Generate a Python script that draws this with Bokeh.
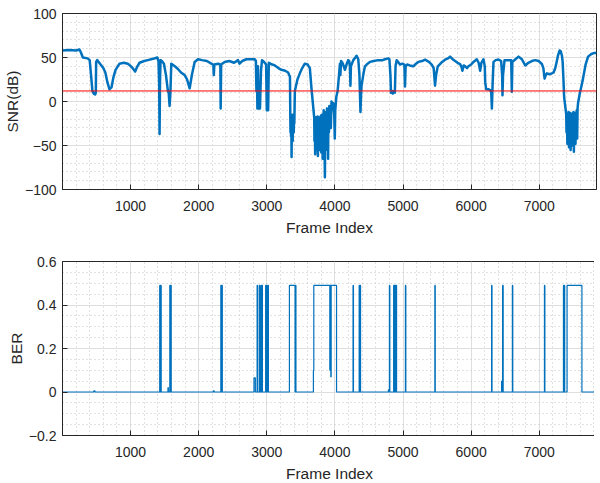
from bokeh.plotting import figure
from bokeh.layouts import column
from bokeh.models import FixedTicker, Range1d, Span
from bokeh.embed import file_html
from bokeh.resources import INLINE

# ---------------- data ----------------
snr_frame = [
    1, 100, 200, 250, 270, 300, 370, 400, 420, 440, 460, 480, 490, 495, 510, 560, 600, 630, 660, 690,
    720, 750, 780, 838, 900, 960, 1020, 1068, 1100, 1132, 1200, 1254, 1330, 1392, 1410, 1420, 1426, 1432, 1440, 1460,
    1490, 1520, 1548, 1560, 1573, 1585, 1598, 1650, 1696, 1740, 1794, 1830, 1868, 1900, 1941, 1990, 2050, 2120, 2186, 2215,
    2222, 2230, 2290, 2318, 2323, 2330, 2382, 2450, 2520, 2578, 2600, 2640, 2700, 2760, 2823, 2840, 2848, 2855, 2862, 2870,
    2880, 2890, 2900, 2915, 2930, 2960, 2990, 3000, 3010, 3020, 3030, 3080, 3118, 3170, 3215, 3270, 3313, 3340, 3345, 3348,
    3352, 3356, 3360, 3364, 3368, 3372, 3376, 3380, 3384, 3388, 3392, 3396, 3400, 3404, 3412, 3450, 3485, 3520, 3558, 3600,
    3632, 3656, 3680, 3696, 3700, 3705, 3710, 3715, 3720, 3725, 3730, 3735, 3740, 3745, 3750, 3755, 3760, 3765, 3770, 3775,
    3780, 3785, 3790, 3795, 3800, 3805, 3810, 3815, 3820, 3825, 3830, 3835, 3840, 3845, 3853, 3858, 3865, 3870, 3878, 3883,
    3890, 3895, 3900, 3905, 3912, 3918, 3925, 3930, 3940, 3950, 3960, 3975, 3990, 3998, 4005, 4020, 4040, 4060, 4074, 4080,
    4090, 4110, 4130, 4147, 4170, 4195, 4210, 4220, 4228, 4235, 4270, 4300, 4318, 4343, 4360, 4375, 4385, 4391, 4420, 4441,
    4480, 4514, 4570, 4637, 4700, 4735, 4784, 4800, 4815, 4823, 4835, 4850, 4865, 4880, 4890, 4906, 4956, 4990, 5020, 5029,
    5038, 5060, 5100, 5151, 5190, 5225, 5280, 5323, 5380, 5421, 5450, 5470, 5485, 5510, 5560, 5617, 5660, 5691, 5730, 5764,
    5800, 5838, 5855, 5872, 5890, 5911, 5940, 5960, 6000, 6034, 6083, 6110, 6132, 6150, 6181, 6200, 6206, 6220, 6250, 6279,
    6295, 6304, 6315, 6328, 6360, 6401, 6440, 6455, 6460, 6468, 6490, 6540, 6588, 6597, 6605, 6650, 6696, 6744, 6794, 6840,
    6891, 6940, 6990, 7038, 7060, 7078, 7095, 7112, 7150, 7185, 7210, 7235, 7255, 7274, 7299, 7315, 7333, 7343, 7355, 7365,
    7382, 7395, 7400, 7406, 7412, 7418, 7424, 7430, 7436, 7442, 7448, 7454, 7460, 7466, 7472, 7478, 7484, 7490, 7496, 7502,
    7508, 7514, 7520, 7526, 7532, 7538, 7544, 7550, 7556, 7562, 7569, 7593, 7620, 7642, 7680, 7716, 7765, 7800, 7840,
]
snr_db = [
    58, 58.5, 58, 59, 56, 50, 49, 47, 30, 12, 9, 8, 10, 45, 47, 42, 38, 33, 22, 14,
    16, 28, 36, 43, 44, 43, 39, 34, 40, 44, 46, 47, 48.5, 50, 46, 20, -37, 20, 47, 46,
    43, 30, 12, 10, -5, 10, 43, 40, 37, 33, 30, 25, 15, 30, 45, 48, 47, 46, 43, 42,
    30, 42, 43, 42, -8, 42, 45, 46, 44, 47, 43, 46, 48, 48, 48, 46, 12, 40, -8, 40,
    -8, 10, -8, 35, 47, 45, 42, -10, 20, -10, 44, 42, 41, 38, 36, 35, 33, 28, -15, -35,
    -16, -40, -18, -63, -16, -30, -15, -45, -17, -30, -16, -35, -20, -25, 12, 25, 32, 38, 43, 42,
    38, 15, -5, -18, -45, -18, -60, -20, -40, -18, -55, -18, -35, -17, -62, -19, -45, -18, -55, -20,
    -38, -18, -50, -16, -58, -20, -40, -15, -65, -18, -50, -10, -45, -15, -86, -15, -55, -12, -48, -8,
    -40, -10, -65, -8, -35, -5, -25, -8, -30, 0, -5, -2, -15, -42, -10, 5, 12, 30, 43, 30,
    46, 44, 40, 36, 42, 47, 46, 40, 18, 40, 47, 50, 52, 48, 30, -12, 10, 18, 32, 40,
    43, 45, 46, 47, 47, 48, 49, 48, 30, 10, 12, 9, 12, 10, 40, 47, 42, 43, 42, 17,
    40, 42, 41, 40, 43, 45, 46, 47.5, 45, 42, 38, 18, 30, 40, 44, 47.5, 49, 51, 48, 46,
    44, 42.5, 40, 35, 41, 40, 38, 40, 42, 45, 48, 44, 35, 44, 48, 40, 22, 14, 14, 13,
    10, -8, 20, 45, 47, 47.7, 46, 30, 7, 30, 47, 47, 47, 11, 45, 48, 51, 48, 41, 44,
    46, 47, 46, 42.6, 38, 26, 30, 32, 31, 32, 33, 38, 45, 52, 58, 57, 52, 45, 25, 5,
    -6, -14, -35, -14, -48, -15, -30, -12, -52, -16, -40, -13, -55, -17, -38, -14, -50, -15, -45, -12,
    -57, -16, -40, -13, -48, -14, -35, -10, -42, -8, -2, 8.6, 18, 26, 42, 51, 54, 55, 55,
]
snr_threshold = 12

ber_frame = [
    1, 460, 460, 478, 478,
    1428, 1428, 1436, 1436, 1442, 1442, 1450, 1450,
    1549, 1549, 1555, 1555,
    1576, 1576, 1584, 1584, 1590, 1590, 1597, 1597,
    2215, 2215, 2228, 2228,
    2325, 2325, 2333, 2333, 2339, 2339, 2347, 2347,
    2812, 2812, 2832, 2832,
    2858, 2858, 2864, 2864,
    2890, 2890, 2898, 2898,
    2915, 2915, 2922, 2922, 2928, 2928, 2936, 2936,
    2983, 2983, 2990, 2990, 2996, 2996, 3003, 3003,
    3016, 3016, 3024, 3024,
    3332, 3332, 3415, 3415, 3420, 3420, 3428, 3428,
    3684, 3684, 3690, 3690, 3925, 3925, 3930, 3930, 3940, 3940, 3945, 3945, 4024, 4024,
    4266, 4266, 4272, 4272,
    4356, 4356, 4362, 4362, 4368, 4368, 4376, 4376,
    4785, 4785, 4795, 4795,
    4800, 4800, 4806, 4806,
    4862, 4862, 4868, 4868, 4873, 4873, 4880, 4880, 4885, 4885, 4893, 4893, 4898, 4898, 4905, 4905,
    5035, 5035, 5041, 5041,
    5467, 5467, 5473, 5473,
    6300, 6300, 6306, 6306,
    6447, 6447, 6455, 6455, 6462, 6462, 6470, 6470,
    6605, 6605, 6611, 6611,
    7076, 7076, 7082, 7082,
    7355, 7355, 7362, 7362, 7366, 7366, 7373, 7373,
    7408, 7408, 7626, 7626,
    7840,
]
ber_value = [
    0, 0, 0.005, 0.005, 0,
    0, 0.49, 0.49, 0, 0, 0.49, 0.49, 0,
    0, 0.02, 0.02, 0,
    0, 0.49, 0.49, 0, 0, 0.49, 0.49, 0,
    0, 0.005, 0.005, 0,
    0, 0.49, 0.49, 0, 0, 0.49, 0.49, 0,
    0, 0.065, 0.065, 0,
    0, 0.49, 0.49, 0,
    0, 0.49, 0.49, 0,
    0, 0.49, 0.49, 0, 0, 0.49, 0.49, 0,
    0, 0.49, 0.49, 0, 0, 0.49, 0.49, 0,
    0, 0.49, 0.49, 0,
    0, 0.49, 0.49, 0, 0, 0.49, 0.49, 0,
    0, 0.1, 0.1, 0.49, 0.49, 0.1, 0.1, 0.49, 0.49, 0.07, 0.07, 0.49, 0.49, 0,
    0, 0.49, 0.49, 0,
    0, 0.49, 0.49, 0, 0, 0.49, 0.49, 0,
    0, 0.01, 0.01, 0,
    0, 0.49, 0.49, 0,
    0, 0.49, 0.49, 0, 0, 0.49, 0.49, 0, 0, 0.49, 0.49, 0, 0, 0.49, 0.49, 0,
    0, 0.49, 0.49, 0,
    0, 0.49, 0.49, 0,
    0, 0.49, 0.49, 0,
    0, 0.05, 0.05, 0, 0, 0.49, 0.49, 0,
    0, 0.49, 0.49, 0,
    0, 0.49, 0.49, 0,
    0, 0.49, 0.49, 0, 0, 0.49, 0.49, 0,
    0, 0.49, 0.49, 0,
    0,
]

x_ticks = [1000, 2000, 3000, 4000, 5000, 6000, 7000]
x_minor_ticks = list(range(0, 8001, 200))
snr_ticks = [-100, -50, 0, 50, 100]
snr_minor_ticks = list(range(-100, 101, 10))
ber_ticks = [-0.2, 0, 0.2, 0.4, 0.6]
ber_minor_ticks = [round(-0.2 + 0.05 * i, 2) for i in range(17)]

FONT = "Liberation Sans"
TXT = "#262626"
LINE_BLUE = "#0072BD"


def style(p, xt, xm, yt, ym, xlabel, ylabel):
    p.xaxis.ticker = FixedTicker(ticks=xt, minor_ticks=xm)
    p.yaxis.ticker = FixedTicker(ticks=yt, minor_ticks=ym)
    for ax in (p.xaxis[0], p.yaxis[0]):
        ax.axis_line_color = TXT
        ax.major_tick_line_color = TXT
        ax.major_tick_in = 5
        ax.major_tick_out = 0
        ax.minor_tick_in = 0
        ax.minor_tick_out = 0
        ax.major_label_text_font = FONT
        ax.major_label_text_font_size = "14px"
        ax.major_label_text_color = TXT
        ax.axis_label_text_font = FONT
        ax.axis_label_text_font_size = "15.5px"
        ax.axis_label_text_font_style = "normal"
        ax.axis_label_text_color = TXT
    p.xaxis.axis_label = xlabel
    p.yaxis.axis_label = ylabel
    p.xaxis.major_label_standoff = 11
    p.xaxis.axis_label_standoff = 5
    p.yaxis.major_label_standoff = 6
    p.yaxis.axis_label_standoff = 1
    p.xgrid.grid_line_color = "#dedede"
    p.ygrid.grid_line_color = "#dedede"
    p.xgrid.minor_grid_line_color = "#c4c4c4"
    p.ygrid.minor_grid_line_color = "#c4c4c4"
    p.xgrid.minor_grid_line_dash = "1 3"
    p.ygrid.minor_grid_line_dash = "1 3"
    p.outline_line_color = TXT
    p.outline_line_width = 1
    p.outline_line_alpha = 1


p1 = figure(frame_width=534, frame_height=176, output_backend="svg", toolbar_location=None,
            x_range=Range1d(1, 7840), y_range=Range1d(-100, 100),
            min_border_left=56, min_border_right=2, min_border_top=13, min_border_bottom=55)
p1.line(snr_frame, snr_db, line_color=LINE_BLUE, line_width=2.5, line_join="round")
p1.add_layout(Span(location=snr_threshold, dimension="width", line_color="#FF0000", line_width=1))
style(p1, x_ticks, x_minor_ticks, snr_ticks, snr_minor_ticks, "Frame Index", "SNR(dB)")

p2 = figure(frame_width=534, frame_height=174, output_backend="svg", toolbar_location=None,
            x_range=Range1d(1, 7840), y_range=Range1d(-0.2, 0.6),
            min_border_left=56, min_border_right=2, min_border_top=17, min_border_bottom=44)
p2.line(ber_frame, ber_value, line_color=LINE_BLUE, line_width=1.2)
style(p2, x_ticks, x_minor_ticks, ber_ticks, ber_minor_ticks, "Frame Index", "BER")
p2.yaxis[0].formatter.use_scientific = False

layout = column(p1, p2, spacing=0)
open("out.html", "w").write(file_html(layout, INLINE))
